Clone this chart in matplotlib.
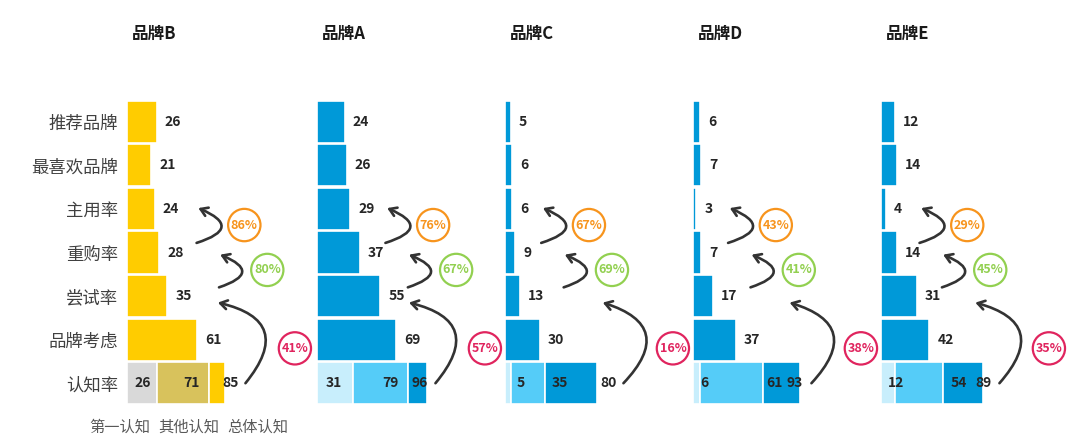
import matplotlib
matplotlib.use("Agg")
from matplotlib import pyplot as plt

plt.rcParams['font.family'] = ['Noto Sans CJK SC', 'DejaVu Sans']

# Data
brands = ['品牌B', '品牌A', '品牌C', '品牌D', '品牌E']
stages = ['推荐品牌', '最喜欢品牌', '主用率', '重购率', '尝试率', '品牌考虑']
funnel = [
    [26, 21, 24, 28, 35, 61],
    [24, 26, 29, 37, 55, 69],
    [5, 6, 6, 9, 13, 30],
    [6, 7, 3, 7, 17, 37],
    [12, 14, 4, 14, 31, 42],
]
aware_label = '认知率'
aware_first = [26, 31, 5, 6, 12]
aware_other = [71, 79, 35, 61, 54]
aware_total = [85, 96, 80, 93, 89]
conv_main = [86, 76, 67, 43, 29]    # 主用率 / 重购率
conv_repeat = [80, 67, 69, 41, 45]  # 重购率 / 尝试率
conv_trial = [41, 57, 16, 38, 35]   # 尝试率 / 认知率
legend_names = ['第一认知', '其他认知', '总体认知']

# Style / layout
px_per_unit = 1.15
panel_left = [127, 317, 505, 693, 881]
panel_w = 190
top_px, bot_px = 100, 405
W, H = 1080, 445
main_colors = ['#FFCC00', '#0099D8', '#0099D8', '#0099D8', '#0099D8']
aware_colors = [
    ['#D9D9D9', '#D8C25C', '#FFCC00'],
    ['#C8EEFC', '#55CCF8', '#0099D8'],
    ['#C8EEFC', '#55CCF8', '#0099D8'],
    ['#C8EEFC', '#55CCF8', '#0099D8'],
    ['#C8EEFC', '#55CCF8', '#0099D8'],
]
aware_text_x = [[14, 56, 90], [15, 64, 89], [14, 48, 90], [10, 71, 88], [13, 68, 89]]
arc_x = [62, 61, 33, 32, 35]
big_head_x = [79, 80, 85, 84, 82]
txt_color = '#262626'
arrow_color = '#333333'

fig = plt.figure(figsize=(W / 100, H / 100), dpi=100)

rows = stages + [aware_label]
n = len(rows)
for i, brand in enumerate(brands):
    ax = fig.add_axes([panel_left[i] / W, 1 - bot_px / H,
                       panel_w / W, (bot_px - top_px) / H])
    ax.set_xlim(0, panel_w / px_per_unit)
    ax.set_ylim(n - 0.5, -0.5)
    for s in ax.spines.values():
        s.set_visible(False)
    ax.set_xticks([])
    if i == 0:
        ax.set_yticks(range(n))
        ax.set_yticklabels(rows, fontsize=12.5, color='#404040')
        ax.tick_params(axis='y', length=0, pad=6.5)
    else:
        ax.set_yticks([])

    vals = funnel[i]
    ax.barh(range(len(vals)), vals, height=0.97, color=main_colors[i],
            edgecolor='white', linewidth=1.2)
    for r, v in enumerate(vals):
        ax.text(v + 7, r, str(v), va='center', ha='left', fontsize=10,
                fontweight='bold', color=txt_color)

    # awareness row, stacked segments
    a1, a2, a3 = aware_first[i], aware_other[i], aware_total[i]
    c1, c2, c3 = aware_colors[i]
    y = n - 1
    ax.barh(y, a1, height=0.97, color=c1, edgecolor='white', linewidth=1.2)
    ax.barh(y, a2 - a1, left=a1, height=0.97, color=c2, edgecolor='white', linewidth=1.2)
    ax.barh(y, a3 - a2, left=a2, height=0.97, color=c3, edgecolor='white', linewidth=1.2)
    for tx, v in zip(aware_text_x[i], (a1, a2, a3)):
        ax.text(tx, y, str(v), va='center', ha='center', fontsize=10,
                fontweight='bold', color=txt_color)

    ax.text(5 / panel_w, 1 + 66 / (bot_px - top_px), brand, transform=ax.transAxes,
            ha='left', va='center', fontsize=12, fontweight='bold', color='#1a1a1a')

    # conversion arrows
    a = arc_x[i]
    arrow = dict(arrowstyle='->,head_length=0.5,head_width=0.32', color=arrow_color,
                 lw=1.9, shrinkA=0, shrinkB=0)
    ax.annotate('', xy=(a, 1.98), xytext=(a - 1.5, 2.78),
                arrowprops=dict(arrow, connectionstyle='arc3,rad=1.35'))
    ax.annotate('', xy=(a + 19, 3.05), xytext=(a + 18, 3.8),
                arrowprops=dict(arrow, connectionstyle='arc3,rad=1.35'))
    ax.annotate('', xy=(big_head_x[i], 4.15), xytext=(103, 6.0),
                arrowprops=dict(arrow, connectionstyle='arc3,rad=0.8'))

    for (cx, cy), pct, col in (((a + 40, 2.37), conv_main[i], '#F7941D'),
                               ((a + 60, 3.4), conv_repeat[i], '#92D050'),
                               ((146, 5.2), conv_trial[i], '#E0245E')):
        ax.text(cx, cy, f'{pct}%', ha='center', va='center', fontsize=9,
                fontweight='bold', color=col, clip_on=False,
                bbox=dict(boxstyle='circle,pad=0.22', fc='white', ec=col, lw=1.6))

# legend under the first panel
for x_px, name in zip([89, 158, 227], legend_names):
    fig.text(x_px / W, 1 - 427 / H, name, ha='left', va='center', fontsize=11,
             color='#595959')

fig.savefig('out.png', dpi=100)
